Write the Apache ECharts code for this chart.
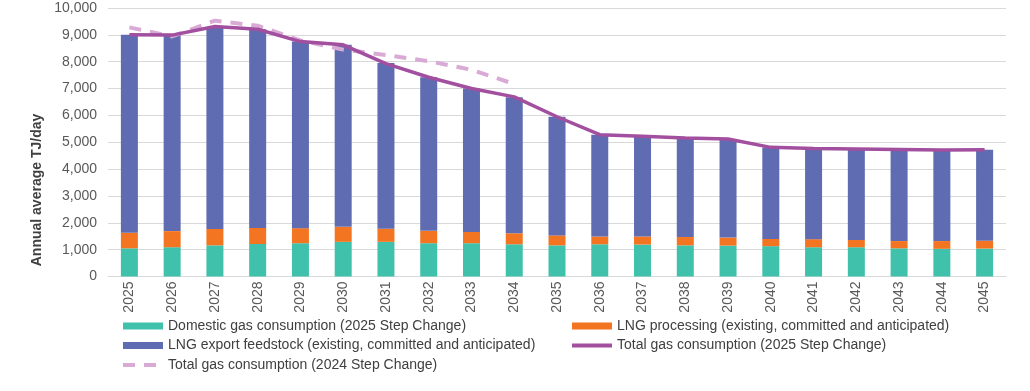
<!DOCTYPE html>
<html>
<head>
<meta charset="utf-8">
<script src="https://cdn.jsdelivr.net/npm/echarts@6/dist/echarts.min.js"></script>
<style>
html,body{margin:0;padding:0;background:#fff;}
#chart{width:1030px;height:391px;}
</style>
</head>
<body>
<div id="chart"></div>
<script>
const years = ['2025','2026','2027','2028','2029','2030','2031','2032','2033','2034','2035','2036','2037','2038','2039','2040','2041','2042','2043','2044','2045'];
const domestic = [1050,1090,1160,1210,1240,1290,1290,1240,1240,1200,1160,1200,1190,1160,1150,1130,1090,1090,1050,1030,1040];
const lngProcessing = [580,600,610,600,560,560,490,460,420,410,370,290,300,310,300,270,300,270,270,290,290];
const lngExport = [7370,7300,7530,7400,6950,6780,6170,5720,5340,5070,4420,3790,3730,3680,3670,3400,3380,3390,3410,3390,3390];
const total2025 = [9000,8990,9310,9210,8750,8630,7930,7420,7000,6690,5950,5280,5220,5160,5120,4810,4770,4750,4730,4710,4720];
const total2024 = [9280,8940,9530,9340,8790,8450,8250,8020,7700,7170,null,null,null,null,null,null,null,null,null,null,null];
const yTicks = {min:0, max:10000, interval:1000};

const names = {
  dom: 'Domestic gas consumption (2025 Step Change)',
  proc: 'LNG processing (existing, committed and anticipated)',
  exp: 'LNG export feedstock (existing, committed and anticipated)',
  t25: 'Total gas consumption (2025 Step Change)',
  t24: 'Total gas consumption (2024 Step Change)'
};

const chart = echarts.init(document.getElementById('chart'), null, {renderer:'canvas'});
const font = 'Liberation Sans, Arial, sans-serif';
const legendText = {fontFamily:font, fontSize:14, color:'#404040', lineHeight:16};
const barItem = n => ({name:n, icon:'rect'});
const lineItem = n => ({name:n, itemStyle:{opacity:0}, lineStyle:{width:4}});
chart.setOption({
  animation:false,
  grid:{left:108, right:24, top:8, bottom:114.5, containLabel:false},
  xAxis:{
    type:'category', data:years,
    axisLine:{lineStyle:{color:'#d9d9d9', width:1}},
    axisTick:{show:false},
    axisLabel:{rotate:90, fontFamily:font, fontSize:14, color:'#595959', margin:5, interval:0}
  },
  yAxis:{
    type:'value', min:yTicks.min, max:yTicks.max, interval:yTicks.interval,
    axisLine:{show:false}, axisTick:{show:false},
    splitLine:{lineStyle:{color:'#d9d9d9', width:1}},
    axisLabel:{fontFamily:font, fontSize:14, color:'#595959', margin:11,
      formatter:v=>v.toLocaleString('en-US')}
  },
  graphic:[{
    type:'text', x:37, y:190, rotation:Math.PI/2,
    style:{text:'Annual average TJ/day', fontFamily:font, fontSize:14, fontWeight:'bold', fill:'#404040', align:'center', verticalAlign:'middle'}
  }],
  legend:[
    {left:121, top:318, padding:0, orient:'vertical', itemWidth:40, itemHeight:7, itemGap:3.5, textStyle:legendText,
     data:[barItem(names.dom), barItem(names.exp), lineItem(names.t24)]},
    {left:570, top:318, padding:0, orient:'vertical', itemWidth:40, itemHeight:7, itemGap:3.5, textStyle:legendText,
     data:[barItem(names.proc), lineItem(names.t25)]}
  ],
  series:[
    {name:names.dom, type:'bar', stack:'s', data:domestic, barWidth:17, itemStyle:{color:'#40c1ac'}},
    {name:names.proc, type:'bar', stack:'s', data:lngProcessing, barWidth:17, itemStyle:{color:'#f47521'}},
    {name:names.exp, type:'bar', stack:'s', data:lngExport, barWidth:17, itemStyle:{color:'#5f6cb2'}},
    {name:names.t24, type:'line', data:total2024, symbol:'none', z:3,
     lineStyle:{color:'#d8aad5', width:4, type:[12,9]}, itemStyle:{color:'#d8aad5'}},
    {name:names.t25, type:'line', data:total2025, symbol:'none', z:4,
     lineStyle:{color:'#a24f9f', width:3.5}, itemStyle:{color:'#a24f9f'}}
  ]
});
</script>
</body>
</html>
